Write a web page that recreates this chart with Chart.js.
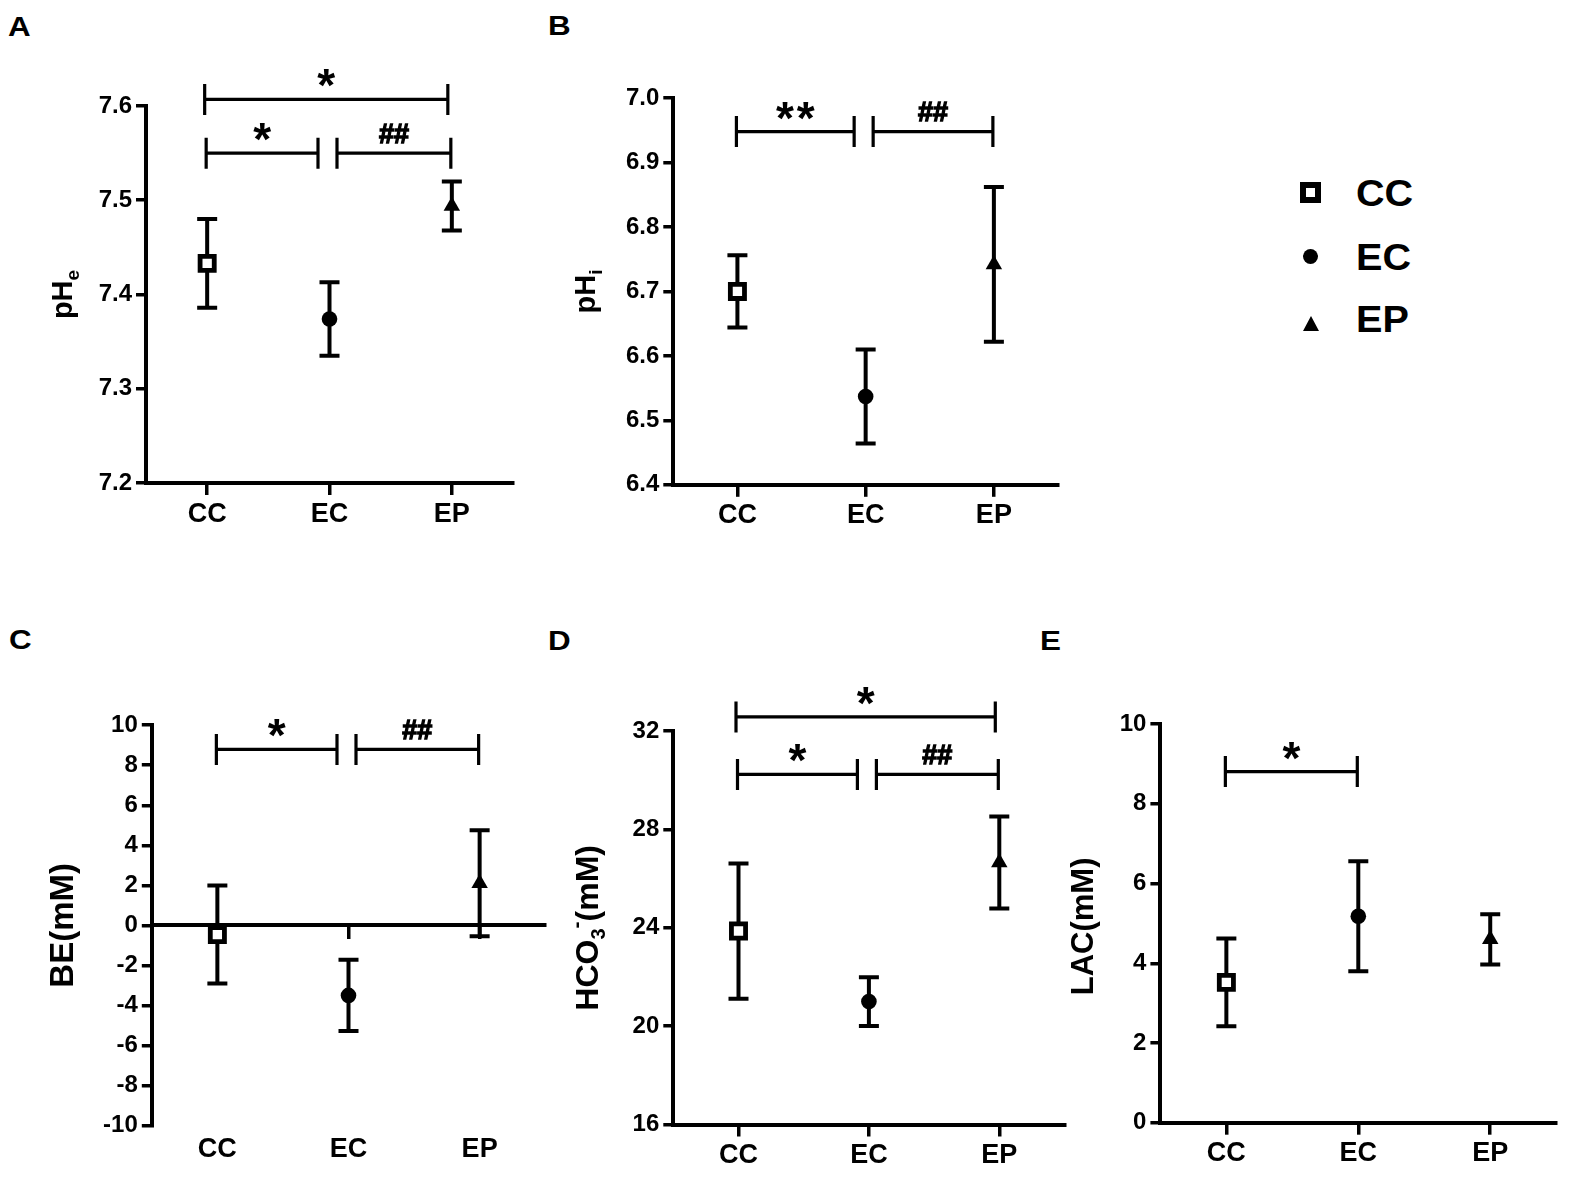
<!DOCTYPE html>
<html><head><meta charset="utf-8">
<script src="https://cdn.jsdelivr.net/npm/chart.js@4.4.0/dist/chart.umd.min.js"></script>
<style>
html,body{margin:0;padding:0;background:#fff;}
body{width:1571px;height:1179px;position:relative;overflow:hidden;font-family:'Liberation Sans',Arial,Helvetica,sans-serif;font-weight:bold;color:#000;}
.pc{position:absolute;}
.pc canvas{display:block;}
.lbl{position:absolute;font-size:28px;line-height:28px;transform:scaleX(1.12);transform-origin:left center;white-space:nowrap;}
.leg{position:absolute;font-size:36px;line-height:36px;transform:scaleX(1.1);transform-origin:left center;white-space:nowrap;}
.sq{position:absolute;width:21px;height:21px;box-sizing:border-box;border:6px solid #000;background:#fff;}
.ci{position:absolute;width:15px;height:15px;border-radius:50%;background:#000;}
.tr{position:absolute;width:0;height:0;border-left:8px solid transparent;border-right:8px solid transparent;border-bottom:15px solid #000;}
</style></head><body>

<div class="lbl" style="left:8px;top:13.3px">A</div>
<div class="lbl" style="left:548px;top:12.3px">B</div>
<div class="lbl" style="left:9px;top:626px">C</div>
<div class="lbl" style="left:548px;top:627.3px">D</div>
<div class="lbl" style="left:1040px;top:627.3px">E</div>

<div class="pc" style="left:0px;top:0px"><canvas id="cA" width="540" height="560"></canvas></div>
<div class="pc" style="left:540px;top:0px"><canvas id="cB" width="540" height="560"></canvas></div>
<div class="pc" style="left:0px;top:600px"><canvas id="cC" width="560" height="579"></canvas></div>
<div class="pc" style="left:540px;top:600px"><canvas id="cD" width="540" height="579"></canvas></div>
<div class="pc" style="left:1040px;top:600px"><canvas id="cE" width="531" height="579"></canvas></div>

<div class="sq" style="left:1300px;top:182px"></div>
<div class="leg" style="left:1356px;top:175.5px">CC</div>
<div class="ci" style="left:1303px;top:249px"></div>
<div class="leg" style="left:1356px;top:239.5px">EC</div>
<div class="tr" style="left:1303px;top:316px"></div>
<div class="leg" style="left:1356px;top:301.5px">EP</div>

<script>
// ---------------- data ----------------
const groups = ['CC', 'EC', 'EP'];

// A: extracellular pH
const pHeMean = [7.433, 7.374, 7.494];
const pHeErr  = [0.047, 0.039, 0.026];
const pHeTicks = [7.2, 7.3, 7.4, 7.5, 7.6];
const pHeSig = [
  {from: 0, to: 2, y: 7.607, text: '*'},
  {from: 0, to: 1, y: 7.550, text: '*'},
  {from: 1, to: 2, y: 7.550, text: '##'}
];

// B: intracellular pH
const pHiMean = [6.700, 6.537, 6.742];
const pHiErr  = [0.056, 0.073, 0.120];
const pHiTicks = [6.4, 6.5, 6.6, 6.7, 6.8, 6.9, 7.0];
const pHiSig = [
  {from: 0, to: 1, y: 6.948, text: '**'},
  {from: 1, to: 2, y: 6.948, text: '##'}
];

// C: base excess
const beMean = [-0.46, -3.50, 2.10];
const beErr  = [2.45, 1.78, 2.65];
const beTicks = [-10, -8, -6, -4, -2, 0, 2, 4, 6, 8, 10];
const beSig = [
  {from: 0, to: 1, y: 8.79, text: '*'},
  {from: 1, to: 2, y: 8.79, text: '##'}
];

// D: bicarbonate
const hco3Mean = [23.87, 21.00, 26.66];
const hco3Err  = [2.75, 0.99, 1.87];
const hco3Ticks = [16, 20, 24, 28, 32];
const hco3Sig = [
  {from: 0, to: 2, y: 32.58, text: '*'},
  {from: 0, to: 1, y: 30.24, text: '*'},
  {from: 1, to: 2, y: 30.24, text: '##'}
];

// E: lactate
const lacMean = [3.52, 5.18, 4.60];
const lacErr  = [1.10, 1.38, 0.63];
const lacTicks = [0, 2, 4, 6, 8, 10];
const lacSig = [
  {from: 0, to: 1, y: 8.81, text: '*'}
];

// ---------------- styling / plugins ----------------
const FONT = "'Liberation Sans', Arial, Helvetica, sans-serif";
Chart.defaults.font.family = FONT;
Chart.defaults.font.weight = 'bold';
Chart.defaults.color = '#000';

const errorBarPlugin = {
  id: 'errbars',
  beforeDatasetsDraw(chart, args, opts) {
    const {ctx} = chart;
    const x = chart.scales.x, y = chart.scales.y;
    const mean = opts.mean || [], err = opts.err || [];
    ctx.save();
    ctx.strokeStyle = '#000';
    ctx.lineWidth = 4;
    mean.forEach((m, i) => {
      const px = x.getPixelForValue(i);
      const top = y.getPixelForValue(m + err[i]);
      const bot = y.getPixelForValue(m - err[i]);
      ctx.beginPath();
      ctx.moveTo(px, top); ctx.lineTo(px, bot);
      ctx.moveTo(px - 10, top); ctx.lineTo(px + 10, top);
      ctx.moveTo(px - 10, bot); ctx.lineTo(px + 10, bot);
      ctx.stroke();
    });
    ctx.restore();
  }
};

function drawInkCentered(ctx, text, cx, cy, spacing, strokeW) {
  const chars = spacing ? text.split('') : [text];
  const m = ctx.measureText(text);
  const base = cy + (m.actualBoundingBoxAscent - m.actualBoundingBoxDescent) / 2;
  ctx.textAlign = 'center';
  ctx.textBaseline = 'alphabetic';
  chars.forEach((c, i) => {
    const off = spacing ? (i - (chars.length - 1) / 2) * spacing : 0;
    ctx.fillText(c, cx + off, base);
    if (strokeW) { ctx.lineWidth = strokeW; ctx.strokeText(c, cx + off, base); }
  });
}

const sigPlugin = {
  id: 'sig',
  afterDraw(chart, args, opts) {
    const {ctx} = chart;
    const x = chart.scales.x, y = chart.scales.y;
    const items = opts.items || [];
    ctx.save();
    ctx.strokeStyle = '#000';
    ctx.fillStyle = '#000';
    items.forEach(it => {
      ctx.lineWidth = 3.2;
      const same = items.filter(o => o !== it && Math.abs(o.y - it.y) < 1e-9);
      let x1 = x.getPixelForValue(it.from) - 1;
      let x2 = x.getPixelForValue(it.to) - 1;
      if (same.some(o => o.from === it.to)) x2 = x.getPixelForValue(it.to) - 11.5;
      if (same.some(o => o.to === it.from)) x1 = x.getPixelForValue(it.from) + 7.5;
      if (it.to - it.from > 1) { x1 -= 1.5; x2 -= 3; }
      const py = y.getPixelForValue(it.y);
      ctx.beginPath();
      ctx.moveTo(x1, py); ctx.lineTo(x2, py);
      ctx.moveTo(x1, py - 15.5); ctx.lineTo(x1, py + 15.5);
      ctx.moveTo(x2, py - 15.5); ctx.lineTo(x2, py + 15.5);
      ctx.stroke();
      const isStar = it.text.charAt(0) === '*';
      ctx.font = 'bold ' + (isStar ? 46 : 27) + 'px ' + FONT;
      drawInkCentered(ctx, it.text, (x1 + x2) / 2, py - (isStar ? 21 : 20), isStar ? 20.6 : 0, isStar ? 0 : 1.3);
    });
    ctx.restore();
  }
};

const titlePlugin = {
  id: 'ytitle',
  afterDraw(chart, args, opts) {
    const parts = opts.parts;
    if (!parts) return;
    const {ctx, chartArea} = chart;
    const cx = chartArea.left + opts.dx;
    const cy = (chartArea.top + chartArea.bottom) / 2 + (opts.dy || 0);
    ctx.save();
    ctx.translate(cx, cy);
    ctx.rotate(-Math.PI / 2);
    ctx.fillStyle = '#000';
    ctx.textBaseline = 'alphabetic';
    ctx.textAlign = 'left';
    let total = 0, inkTop = Infinity, inkBot = -Infinity;
    const widths = parts.map(p => {
      ctx.font = 'bold ' + p.size + 'px ' + FONT;
      const mm = ctx.measureText(p.t);
      const off = p.dy || 0;
      inkTop = Math.min(inkTop, off - mm.actualBoundingBoxAscent);
      inkBot = Math.max(inkBot, off + mm.actualBoundingBoxDescent);
      const w = mm.width + (p.gap || 0);
      total += w;
      return w;
    });
    let xx = -total / 2;
    const base = -(inkTop + inkBot) / 2;
    parts.forEach((p, i) => {
      ctx.font = 'bold ' + p.size + 'px ' + FONT;
      ctx.fillText(p.t, xx, base + (p.dy || 0));
      xx += widths[i];
    });
    ctx.restore();
  }
};

const tickGrid = (len) => ({
  display: true, drawOnChartArea: false, drawTicks: true,
  tickLength: len, tickWidth: 3.5, tickColor: '#000', color: '#000', lineWidth: 3.5
});
const axisBorder = {display: true, width: 4, color: '#000'};
const Y_FONT = {size: 24, weight: 'bold', family: FONT};
const X_FONT = {size: 27, weight: 'bold', family: FONT};

function makePanel(cfg) {
  const yTicks = cfg.yTicks;
  const scales = {
    y: {
      type: 'linear', position: 'left',
      min: yTicks[0], max: yTicks[yTicks.length - 1],
      afterBuildTicks: s => { s.ticks = yTicks.map(v => ({value: v})); },
      afterFit: s => { s.width = cfg.yW; },
      ticks: {callback: cfg.yFmt, font: Y_FONT, padding: 4, color: '#000'},
      grid: tickGrid(10),
      border: axisBorder
    }
  };
  const xTickDef = {
    type: 'linear', min: -0.5, max: 2.5,
    afterBuildTicks: s => { s.ticks = groups.map((g, i) => ({value: i})); }
  };
  if (cfg.zeroAxis) {
    scales.x = Object.assign({}, xTickDef, {
      position: {y: 0},
      ticks: {display: false},
      grid: tickGrid(12),
      border: axisBorder
    });
    scales.x2 = Object.assign({}, xTickDef, {
      axis: 'x', position: 'bottom',
      afterFit: s => { s.height = cfg.xH; },
      ticks: {callback: v => groups[v] || '', font: X_FONT, padding: cfg.xPad, maxRotation: 0, autoSkip: false, color: '#000'},
      grid: {display: false, drawTicks: false},
      border: {display: false}
    });
  } else {
    scales.x = Object.assign({}, xTickDef, {
      position: 'bottom',
      afterFit: s => { s.height = cfg.xH; },
      ticks: {callback: v => groups[v] || '', font: X_FONT, padding: cfg.xPad, maxRotation: 0, autoSkip: false, color: '#000'},
      grid: tickGrid(12),
      border: axisBorder
    });
  }
  return new Chart(document.getElementById(cfg.id), {
    type: 'scatter',
    data: {
      datasets: [{
        data: cfg.mean.map((m, i) => ({x: i, y: m})),
        pointStyle: ['rect', 'circle', 'triangle'],
        pointRadius: [10, 7.8, 9.5],
        pointHoverRadius: [10, 7.8, 9.5],
        pointBackgroundColor: ['#ffffff', '#000000', '#000000'],
        pointBorderColor: '#000000',
        pointBorderWidth: [4.8, 0, 0],
        clip: false
      }]
    },
    options: {
      responsive: false,
      animation: false,
      events: [],
      layout: {padding: {left: 0, top: cfg.top, right: cfg.right, bottom: 0}},
      scales: scales,
      plugins: {
        legend: {display: false},
        tooltip: {enabled: false},
        errbars: {mean: cfg.mean, err: cfg.err},
        sig: {items: cfg.sig},
        ytitle: {parts: cfg.title, dx: cfg.titleDx, dy: cfg.titleDy || 0}
      }
    },
    plugins: [errorBarPlugin, sigPlugin, titlePlugin]
  });
}

const fmt1 = v => Number(v).toFixed(1);
const fmt0 = v => String(v);

makePanel({id: 'cA', mean: pHeMean, err: pHeErr, yTicks: pHeTicks, yFmt: fmt1, sig: pHeSig,
  yW: 146, top: 106, right: 27, xH: 77, xPad: 3,
  title: [{t: 'pH', size: 29}, {t: 'e', size: 19, dy: 7}], titleDx: -81});

makePanel({id: 'cB', mean: pHiMean, err: pHiErr, yTicks: pHiTicks, yFmt: fmt1, sig: pHiSig,
  yW: 133.3, top: 98.1, right: 22, xH: 75.2, xPad: 3,
  title: [{t: 'pH', size: 29}, {t: 'i', size: 19, dy: 7}], titleDx: -85.3});

makePanel({id: 'cC', mean: beMean, err: beErr, yTicks: beTicks, yFmt: fmt0, sig: beSig,
  yW: 151.8, top: 125.2, right: 10, xH: 53.5, xPad: 8, zeroAxis: true,
  title: [{t: 'BE(mM)', size: 33}], titleDx: -87.5});

makePanel({id: 'cD', mean: hco3Mean, err: hco3Err, yTicks: hco3Ticks, yFmt: fmt0, sig: hco3Sig,
  yW: 133.3, top: 131.2, right: 15.5, xH: 54.5, xPad: 3,
  title: [{t: 'HCO', size: 32}, {t: '3', size: 20, dy: 7}, {t: '-', size: 21, dy: -15}, {t: '(mM)', size: 32}], titleDx: -83.3});

makePanel({id: 'cE', mean: lacMean, err: lacErr, yTicks: lacTicks, yFmt: fmt0, sig: lacSig,
  yW: 120.4, top: 124.1, right: 11.3, xH: 56.3, xPad: 3,
  title: [{t: 'LAC(mM)', size: 31}], titleDx: -75.2, titleDy: 3});
</script>
</body></html>
